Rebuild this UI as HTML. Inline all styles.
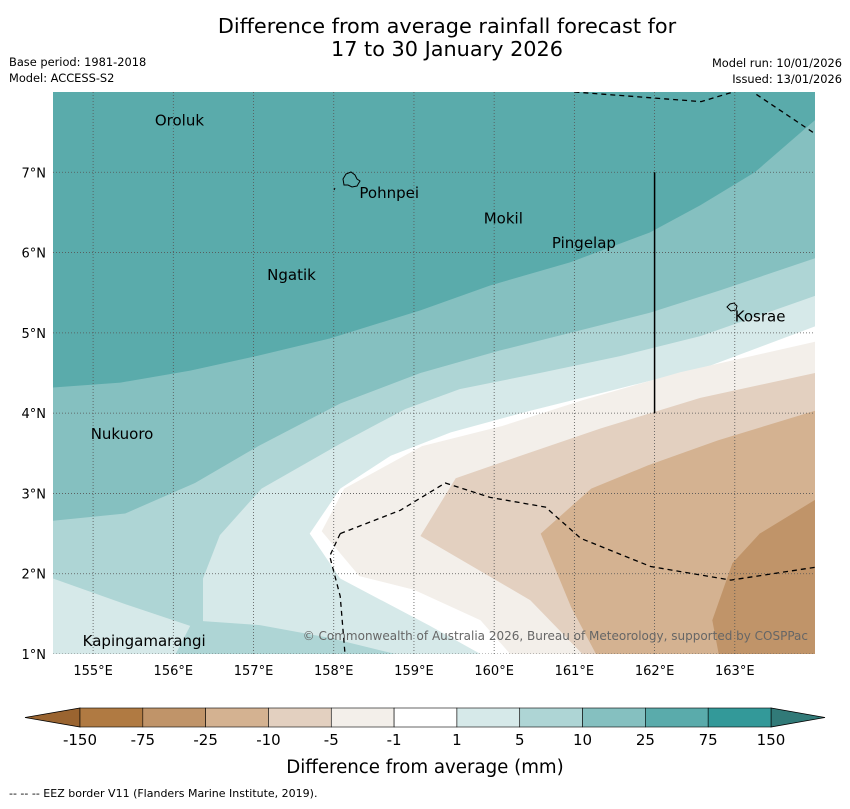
<!DOCTYPE html>
<html><head><meta charset="utf-8"><style>
body{margin:0;background:#fff;width:850px;height:804px;overflow:hidden;font-family:"Liberation Sans","DejaVu Sans",sans-serif}
</style></head><body>
<svg id="chart" width="850" height="804" xmlns="http://www.w3.org/2000/svg" font-family="DejaVu Sans, Liberation Sans, sans-serif">
<text x="447" y="33" font-size="20.8" text-anchor="middle">Difference from average rainfall forecast for</text>
<text x="447" y="56" font-size="20.8" text-anchor="middle">17 to 30 January 2026</text>
<text x="9" y="66" font-size="11.4">Base period: 1981-2018</text>
<text x="9" y="82" font-size="11.4">Model: ACCESS-S2</text>
<text x="842" y="67" font-size="11.4" text-anchor="end">Model run: 10/01/2026</text>
<text x="842" y="83" font-size="11.4" text-anchor="end">Issued: 13/01/2026</text>
<g id="map"></g>
<g id="cbar"></g>
<text x="425" y="773" font-size="18.2" text-anchor="middle">Difference from average (mm)</text>
<text x="9" y="797" font-size="11">--  --  -- EEZ border V11 (Flanders Marine Institute, 2019).</text>
</svg>
<script>
const lonTicks=[155,156,157,158,159,160,161,162,163];
const latTicks=[1,2,3,4,5,6,7];
const cbLevels=["-150","-75","-25","-10","-5","-1","1","5","10","25","75","150"];
const cbColors=["#b07a42","#c09469","#d4b291","#e3d0c0","#f3efea","#ffffff","#d6e9e9","#aed5d5","#85c0c0","#5aabab","#339999"];
// contour regions in [lon,lat]
const band10to25=[[154.5,4.32],[155.34,4.38],[156.21,4.53],[157.08,4.72],[157.95,4.93],[159.08,5.28],[159.95,5.59],[160.95,5.88],[161.94,6.25],[162.57,6.59],[163.25,7.0],[164,7.65],[164,1],[154.5,1]];
const band5to10=[[154.5,2.66],[155.4,2.75],[156.27,3.13],[157.06,3.59],[158.08,4.12],[159.08,4.5],[160.07,4.78],[161.07,5.03],[161.94,5.25],[162.82,5.53],[164,5.93],[164,1],[154.5,1]];
const band1to5a=[[154.5,1.94],[155.46,1.6],[156.21,1.35],[156.03,1],[154.5,1]];
const band1to5b=[[158.77,1],[157.95,1.2],[157.08,1.36],[156.37,1.41],[156.37,1.94],[156.58,2.48],[157.1,3.06],[158.08,3.62],[158.89,4.05],[159.57,4.3],[160.57,4.5],[161.57,4.71],[162.57,4.96],[164,5.46],[164,1]];
const bandWhite=[[159.83,1],[159.2,1.35],[158.08,1.94],[157.7,2.5],[158.08,3.06],[158.71,3.47],[159.46,3.76],[160.45,4.03],[161.45,4.28],[162.69,4.59],[164,5.08],[164,1]];
const bandM1to5=[[160.2,1],[159.83,1.42],[159.0,1.8],[158.32,1.97],[157.85,2.53],[158.13,3.06],[159.1,3.59],[160.1,3.84],[161.1,4.16],[162.32,4.51],[164,4.89],[164,1]];
const bandM5to10=[[161.1,1],[160.45,1.67],[159.08,2.47],[159.52,3.19],[160.33,3.47],[161.33,3.81],[162.57,4.19],[164,4.5],[164,1]];
const bandM10to25=[[161.27,1],[160.96,1.58],[160.58,2.5],[161.21,3.06],[161.92,3.35],[162.79,3.66],[164,4.03],[164,1]];
const bandM25to75=[[162.8,1],[162.72,1.42],[162.97,2.13],[163.31,2.5],[164,2.92],[164,1]];
const eezTop=[[161.0,8.0],[162.58,7.88],[163.08,8.03]];
const eezTop2=[[163.27,7.97],[164,7.48]];
const eezMid=[[158.08,2.5],[158.83,2.79],[159.39,3.13],[159.95,2.95],[160.64,2.83],[161.08,2.44],[161.95,2.09],[162.95,1.92],[164,2.08]];
const eezLeft=[[158.08,2.5],[157.95,2.22],[158.08,1.72],[158.14,1]];
const places=[["Oroluk",155.77,7.58],["Pohnpei",158.32,6.68],["Mokil",159.87,6.36],["Pingelap",160.72,6.06],["Ngatik",157.17,5.66],["Kosrae",163.0,5.14],["Nukuoro",154.97,3.68],["Kapingamarangi",154.87,1.1]];
const X0=53,X1=815,Y0=92,Y1=654,LON0=154.5,LON1=164,LAT0=1,LAT1=8.0;
const xs=l=>X0+(l-LON0)/(LON1-LON0)*(X1-X0);
const ys=l=>Y1-(l-LAT0)/(LAT1-LAT0)*(Y1-Y0);
const NS="http://www.w3.org/2000/svg";
function mk(t,a,p){const e=document.createElementNS(NS,t);for(const k in a)e.setAttribute(k,a[k]);p.appendChild(e);return e;}
const map=document.getElementById('map');
const clip=mk('clipPath',{id:'mc'},map);mk('rect',{x:X0,y:Y0,width:X1-X0,height:Y1-Y0},clip);
const g=mk('g',{'clip-path':'url(#mc)'},map);
let bg=mk('rect',{x:X0,y:Y0,width:X1-X0,height:Y1-Y0,fill:'#5aabab'},g);


const pts=a=>a.map(p=>xs(p[0]).toFixed(1)+','+ys(p[1]).toFixed(1)).join(' ');
[[band10to25,'#85c0c0','band-10-to-25'],[band5to10,'#aed5d5','band-5-to-10'],[band1to5a,'#d6e9e9','band-1-to-5-south'],[band1to5b,'#d6e9e9','band-1-to-5'],[bandWhite,'#ffffff','band-neutral'],[bandM1to5,'#f3efea','band-minus1-to-5'],[bandM5to10,'#e3d0c0','band-minus5-to-10'],[bandM10to25,'#d4b291','band-minus10-to-25'],[bandM25to75,'#c09469','band-minus25-to-75']].forEach(b=>{
 const e=mk('polygon',{points:pts(b[0]),fill:b[1]},g);
 
 
});
lonTicks.forEach(l=>{
 const e=mk('line',{x1:xs(l),x2:xs(l),y1:Y0,y2:Y1,stroke:'#555','stroke-width':0.8,'stroke-dasharray':'1,2'},g);
 
 
 const t=mk('text',{x:xs(l),y:675,'font-size':13,'text-anchor':'middle'},map);t.textContent=l+'°E';
 
 
});
latTicks.forEach(l=>{
 const e=mk('line',{x1:X0,x2:X1,y1:ys(l),y2:ys(l),stroke:'#555','stroke-width':0.8,'stroke-dasharray':'1,2'},g);
 
 
 const t=mk('text',{x:46,y:ys(l)+5,'font-size':13,'text-anchor':'end'},map);t.textContent=l+'°N';
 
 
});
[eezTop,eezTop2,eezMid,eezLeft].forEach(a=>{
 const e=mk('polyline',{points:pts(a),fill:'none',stroke:'#000','stroke-width':1.3,'stroke-dasharray':'5,4'},g);
 
 
});
let v=mk('line',{x1:xs(162),x2:xs(162),y1:ys(7),y2:ys(4),stroke:'#000','stroke-width':1.5},g);


let isl=mk('path',{d:'M343,179 l3,-5 l5,-2 l4,3 l2,4 l3,2 l-3,5 l-5,1 l-4,-2 l-4,0 z M334,190 l1,-2',fill:'none',stroke:'#000','stroke-width':1},g);


let isk=mk('path',{d:'M727,307 l3,-3 l4,-1 l3,3 l-1,4 l-5,1 z',fill:'none',stroke:'#000','stroke-width':1},g);


places.forEach(p=>{
 const t=mk('text',{x:xs(p[1]),y:ys(p[2]),'font-size':15},g);t.textContent=p[0];
 
 
});
let cp=mk('text',{x:808,y:640,'font-size':12,'text-anchor':'end',fill:'#666'},g);cp.textContent='© Commonwealth of Australia 2026, Bureau of Meteorology, supported by COSPPac';


// colorbar
const cb=document.getElementById('cbar');
const CX0=80,CX1=771,CY=708,CH=19,n=cbColors.length,w=(CX1-CX0)/n;
let lt=mk('polygon',{points:`25,${CY+CH/2} ${CX0},${CY} ${CX0},${CY+CH}`,fill:'#9a6430',stroke:'#000','stroke-width':0.8},cb);


let rt=mk('polygon',{points:`825,${CY+CH/2} ${CX1},${CY} ${CX1},${CY+CH}`,fill:'#317a78',stroke:'#000','stroke-width':0.8},cb);


cbColors.forEach((c,i)=>{
 const e=mk('rect',{x:CX0+i*w,y:CY,width:w,height:CH,fill:c,stroke:'#000','stroke-width':0.6},cb);
 
 
});
cbLevels.forEach((l,i)=>{
 const t=mk('text',{x:CX0+i*w,y:745,'font-size':15,'text-anchor':'middle'},cb);t.textContent=l;
 
 
});
</script>
</body></html>
